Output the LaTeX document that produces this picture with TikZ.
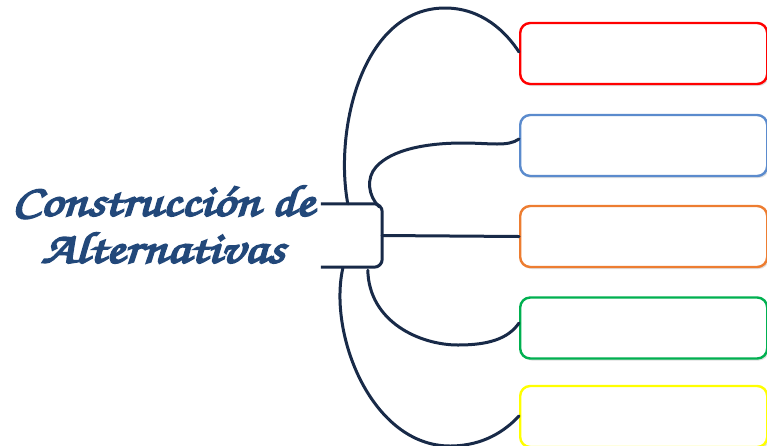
\documentclass[tikz,border=0pt]{standalone}
\usepackage{fontspec}
\usetikzlibrary{shadows}
\newfontfamily\titlefont[FakeBold=4.5, FakeStretch=1.24]{TeX Gyre Chorus}
\definecolor{navy}{RGB}{24,42,72}
\definecolor{titleblue}{RGB}{34,72,122}
\definecolor{boxred}{RGB}{255,0,0}
\definecolor{boxblue}{RGB}{91,139,205}
\definecolor{boxorange}{RGB}{237,125,49}
\definecolor{boxgreen}{RGB}{0,176,80}
\definecolor{boxyellow}{RGB}{255,255,0}
\tikzset{
  ideabox/.style={draw, line width=2.4pt, rounded corners=10pt, fill=white,
    minimum width=247pt, minimum height=61pt, anchor=west, inner sep=0pt,
    drop shadow={opacity=0.25, shadow xshift=1.5pt, shadow yshift=-2pt}},
  conn/.style={draw=navy, line width=3pt, line cap=round},
}
\begin{document}
\begin{tikzpicture}[x=1pt,y=-1pt]
\useasboundingbox (0,0) rectangle (767,445);
% boxes
\node[ideabox, draw=boxred]    (b1) at (519,53.5) {};
\node[ideabox, draw=boxblue]   (b2) at (519,145.5) {};
\node[ideabox, draw=boxorange] (b3) at (519,236.5) {};
\node[ideabox, draw=boxgreen]  (b4) at (519,328) {};
\node[ideabox, draw=boxyellow] (b5) at (519,416.5) {};
% title
\node[text=titleblue, align=center, inner sep=0pt,
      font=\titlefont\fontsize{44}{47}\selectfont] (title) at (163,224.5)
  {Construcción de\\Alternativas};
% hub bracket
\node[minimum width=61pt, minimum height=63pt, inner sep=0pt] (hub) at (351.5,235.5) {};
\draw[navy, line width=3pt, rounded corners=8pt]
  (hub.north west) -- (hub.north east) -- (hub.south east) -- (hub.south west);
% connectors
\coordinate (s1) at ([xshift=27pt]hub.north west);
\coordinate (s2) at ([xshift=-3pt,yshift=-3pt]hub.north east);
\coordinate (s4) at ([xshift=47pt,yshift=-3pt]hub.south west);
\coordinate (s5) at ([xshift=22pt,yshift=-1pt]hub.south west);
\path[conn] (s1) .. controls (334,130) and (362,8) .. (445,8)
  .. controls (482,8) and (506,32) .. ([yshift=1.5pt]b1.west);
\path[conn] (s2) .. controls (368,196) and (366,178) .. (376,167)
  .. controls (392,149) and (428,143) .. (463,143)
  .. controls (490,143) and (508,147) .. ([yshift=6.5pt]b2.west);
\path[conn] (hub.east) -- (b3.west);
\path[conn] (s4) .. controls (369,322) and (420,345) .. (458,345)
  .. controls (488,345) and (508,339) .. ([yshift=5pt]b4.west);
\path[conn] (s5) .. controls (328,335) and (372,446) .. (450,446)
  .. controls (484,446) and (506,430) .. ([yshift=0.5pt]b5.west);
\end{tikzpicture}
\end{document}
